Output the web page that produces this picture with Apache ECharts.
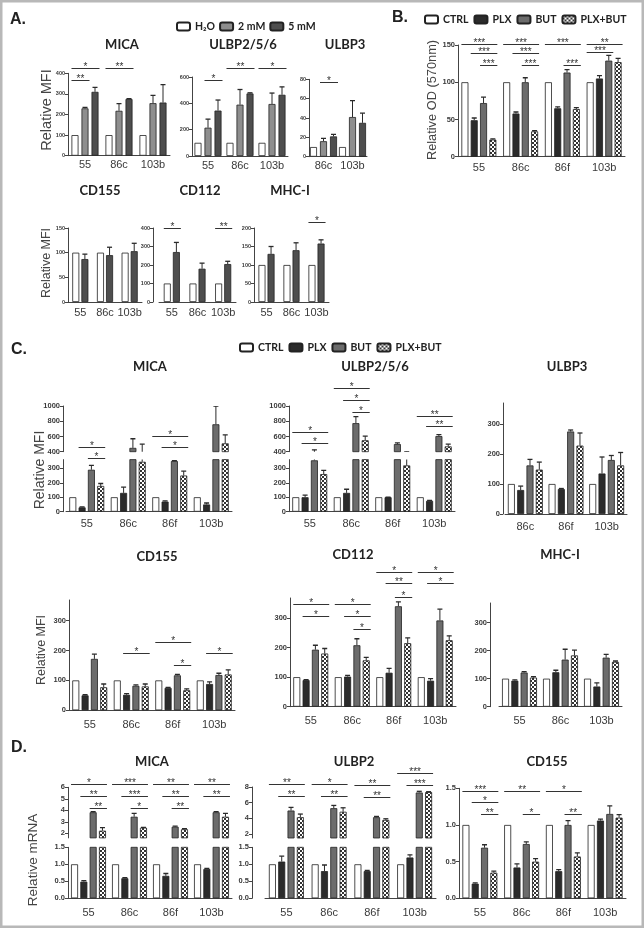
<!DOCTYPE html>
<html><head><meta charset="utf-8">
<script src="https://cdn.jsdelivr.net/npm/echarts@6/dist/echarts.min.js"></script>
<style>html,body{margin:0;padding:0;background:#fff}#c{width:644px;height:928px}</style>
</head><body><div id="c"></div><script>
// ================= DATA =================
// ---- Panel A ----
const A_groups = ['55', '86c', '103b'];
const A_groupsULBP3 = ['86c', '103b'];
const A_treat3 = ['H₂O', '2 mM', '5 mM'];
const A_treat2 = ['H₂O', '5 mM'];

const A_MICA_h2o = [100, 100, 100];
const A_MICA_2mM = [230, 218, 255];
const A_MICA_2mM_err = [5, 35, 38];
const A_MICA_5mM = [310, 275, 258];
const A_MICA_5mM_err = [22, 2, 87];
const A_MICA_ticks = [0, 100, 200, 300, 400];
const A_MICA_sig = [[0, 0, 2, 424, '*'], [0, 0, 1, 366, '**'], [1, 0, 2, 424, '**']];

const A_ULBP256_h2o = [100, 100, 100];
const A_ULBP256_2mM = [215, 390, 395];
const A_ULBP256_2mM_err = [65, 115, 83];
const A_ULBP256_5mM = [345, 475, 465];
const A_ULBP256_5mM_err = [80, 5, 60];
const A_ULBP256_ticks = [0, 200, 400, 600];
const A_ULBP256_sig = [[0, 1, 2, 577, '*'], [1, 0, 2, 668, '**'], [2, 0, 2, 668, '*']];

const A_ULBP3_h2o = [10, 10];
const A_ULBP3_2mM = [16, 41];
const A_ULBP3_2mM_err = [3, 17];
const A_ULBP3_5mM = [21, 35];
const A_ULBP3_5mM_err = [2, 10];
const A_ULBP3_ticks = [0, 20, 40, 60, 80];
const A_ULBP3_sig = [[0, 1, 2, 77, '*']];

const A_CD155_h2o = [100, 100, 100];
const A_CD155_5mM = [87, 95, 103];
const A_CD155_5mM_err = [10, 16, 16];
const A_CD155_ticks = [0, 50, 100, 150];

const A_CD112_h2o = [100, 100, 100];
const A_CD112_5mM = [270, 180, 205];
const A_CD112_5mM_err = [52, 30, 15];
const A_CD112_ticks = [0, 100, 200, 300, 400];
const A_CD112_sig = [[0, 0, 1, 400, '*'], [2, 0, 1, 400, '**']];

const A_MHCI_h2o = [100, 100, 100];
const A_MHCI_5mM = [130, 140, 158];
const A_MHCI_5mM_err = [20, 20, 10];
const A_MHCI_ticks = [0, 50, 100, 150, 200];
const A_MHCI_sig = [[2, 0, 1, 216, '*']];

// ---- Panel B ----
const B_groups = ['55', '86c', '86f', '103b'];
const B_treat = ['CTRL', 'PLX', 'BUT', 'PLX+BUT'];
const B_CTRL = [100, 100, 100, 100];
const B_PLX = [49, 58, 65, 105];
const B_PLX_err = [3, 2, 2, 4];
const B_BUT = [72, 100, 113, 129];
const B_BUT_err = [8, 6, 4, 7];
const B_PLXBUT = [23, 34, 64, 127];
const B_PLXBUT_err = [1, 1, 2, 5];
const B_ticks = [0, 50, 100, 150];
const B_sig = [[0, 0, 3, 152, '***'], [0, 1, 3, 139, '***'], [0, 2, 3, 123, '***'],
               [1, 0, 3, 152, '***'], [1, 1, 3, 139, '***'], [1, 2, 3, 123, '***'],
               [2, 0, 3, 152, '***'], [2, 2, 3, 123, '***'],
               [3, 0, 3, 152, '**'], [3, 0, 2, 140, '***']];

// ---- Panel C ----
const C_groups4 = ['55', '86c', '86f', '103b'];
const C_groupsULBP3 = ['86c', '86f', '103b'];
const C_groupsMHCI = ['55', '86c', '103b'];
const C_upperTicks = [400, 600, 800, 1000];
const C_lowerTicks = [0, 100, 200, 300];

const C_MICA_CTRL = [100, 100, 100, 100];
const C_MICA_PLX = [30, 130, 70, 50];
const C_MICA_PLX_err = [3, 40, 5, 10];
const C_MICA_BUT = [290, 450, 350, 760];
const C_MICA_BUT_err = [30, 120, 3, 240];
const C_MICA_PLXBUT = [178, 345, 250, 510];
const C_MICA_PLXBUT_err = [17, 155, 30, 110];
const C_MICA_sig = [[0, 1, 3, 462, '*'], [0, 2, 3, 317, '*'], [2, 0, 3, 606, '*'], [2, 1, 3, 462, '*']];

const C_ULBP256_CTRL = [100, 100, 100, 100];
const C_ULBP256_PLX = [100, 130, 100, 75];
const C_ULBP256_PLX_err = [15, 25, 0, 3];
const C_ULBP256_BUT = [355, 775, 500, 605];
const C_ULBP256_BUT_err = [70, 85, 15, 20];
const C_ULBP256_PLXBUT = [260, 550, 320, 470];
const C_ULBP256_PLXBUT_err = [25, 55, 80, 30];
const C_ULBP256_sig = [[0, 0, 3, 662, '*'], [0, 1, 3, 514, '*'],
                       [1, 0, 3, 1236, '*'], [1, 1, 3, 1078, '*'], [1, 2, 3, 921, '*'],
                       [3, 0, 3, 868, '**'], [3, 1, 3, 737, '**']];

const C_ULBP3_CTRL = [100, 100, 100];
const C_ULBP3_PLX = [80, 83, 135];
const C_ULBP3_PLX_err = [13, 2, 55];
const C_ULBP3_BUT = [162, 275, 180];
const C_ULBP3_BUT_err = [20, 5, 15];
const C_ULBP3_PLXBUT = [148, 228, 162];
const C_ULBP3_PLXBUT_err = [25, 42, 43];

const C_CD155_CTRL = [100, 100, 100, 100];
const C_CD155_PLX = [50, 52, 75, 88];
const C_CD155_PLX_err = [2, 4, 2, 7];
const C_CD155_BUT = [172, 82, 117, 118];
const C_CD155_BUT_err = [16, 3, 3, 6];
const C_CD155_PLXBUT = [77, 80, 67, 120];
const C_CD155_PLXBUT_err = [11, 8, 5, 15];
const C_CD155_sig = [[1, 1, 3, 193, '*'], [2, 0, 3, 230, '*'], [2, 2, 3, 152, '*'], [3, 1, 3, 193, '*']];

const C_CD112_CTRL = [100, 100, 100, 100];
const C_CD112_PLX = [90, 102, 115, 88];
const C_CD112_PLX_err = [2, 4, 15, 7];
const C_CD112_BUT = [193, 208, 340, 292];
const C_CD112_BUT_err = [15, 22, 15, 38];
const C_CD112_PLXBUT = [180, 157, 215, 225];
const C_CD112_PLXBUT_err = [17, 10, 18, 15];
const C_CD112_sig = [[0, 0, 3, 347, '*'], [0, 1, 3, 307, '*'],
                     [1, 0, 3, 347, '*'], [1, 1, 3, 307, '*'], [1, 2, 3, 263, '*'],
                     [2, 0, 3, 456, '*'], [2, 1, 3, 418, '**'], [2, 2, 3, 371, '*'],
                     [3, 0, 3, 456, '*'], [3, 1, 3, 418, '*']];

const C_MHCI_CTRL = [100, 100, 100];
const C_MHCI_PLX = [93, 123, 72];
const C_MHCI_PLX_err = [3, 7, 13];
const C_MHCI_BUT = [122, 168, 175];
const C_MHCI_BUT_err = [3, 37, 12];
const C_MHCI_PLXBUT = [104, 183, 160];
const C_MHCI_PLXBUT_err = [3, 19, 3];

// ---- Panel D ----
const D_groups = ['55', '86c', '86f', '103b'];
const D_lowerTicks = [0, 0.5, 1, 1.5];
const D_MICA_upperTicks = [2, 3, 4, 5, 6];
const D_ULBP2_upperTicks = [2, 4, 6, 8];

const D_MICA_CTRL = [1, 1, 1, 1];
const D_MICA_PLX = [0.49, 0.59, 0.66, 0.86];
const D_MICA_PLX_err = [0.03, 0.02, 0.07, 0.02];
const D_MICA_BUT = [3.83, 3.44, 2.57, 3.83];
const D_MICA_BUT_err = [0.05, 0.3, 0.06, 0.05];
const D_MICA_PLXBUT = [2.23, 2.49, 2.35, 3.44];
const D_MICA_PLXBUT_err = [0.26, 0.03, 0.05, 0.3];
const D_MICA_sig = [[0, 0, 3, 6.29, '*'], [0, 1, 3, 5.24, '**'], [0, 2, 3, 4.2, '**'],
                    [1, 0, 3, 6.29, '***'], [1, 1, 3, 5.24, '***'], [1, 2, 3, 4.2, '*'],
                    [2, 0, 3, 6.29, '**'], [2, 1, 3, 5.24, '**'], [2, 2, 3, 4.2, '**'],
                    [3, 0, 3, 6.29, '**'], [3, 1, 3, 5.24, '**']];

const D_ULBP2_CTRL = [1, 1, 1, 1];
const D_ULBP2_PLX = [1.08, 0.8, 0.8, 1.2];
const D_ULBP2_PLX_err = [0.16, 0.18, 0.02, 0.08];
const D_ULBP2_BUT = [5.0, 5.3, 4.15, 7.3];
const D_ULBP2_BUT_err = [0.4, 0.35, 0.1, 0.15];
const D_ULBP2_PLXBUT = [4.15, 4.85, 3.8, 7.35];
const D_ULBP2_PLXBUT_err = [0.4, 0.5, 0.15, 0.05];
const D_ULBP2_sig = [[0, 0, 3, 8.35, '**'], [0, 1, 3, 6.85, '**'],
                     [1, 0, 3, 8.35, '*'], [1, 1, 3, 6.85, '**'],
                     [2, 0, 3, 8.2, '**'], [2, 1, 3, 6.7, '**'],
                     [3, 0, 3, 9.83, '***'], [3, 1, 3, 8.26, '***']];

const D_CD155_CTRL = [1, 1, 1, 1];
const D_CD155_PLX = [0.2, 0.42, 0.37, 1.06];
const D_CD155_PLX_err = [0.01, 0.05, 0.02, 0.02];
const D_CD155_BUT = [0.69, 0.74, 1.0, 1.15];
const D_CD155_BUT_err = [0.04, 0.03, 0.06, 0.11];
const D_CD155_PLXBUT = [0.35, 0.5, 0.57, 1.1];
const D_CD155_PLXBUT_err = [0.02, 0.04, 0.05, 0.04];
const D_CD155_sig = [[0, 0, 3, 1.464, '***'], [0, 1, 3, 1.318, '*'], [0, 2, 3, 1.15, '**'],
                     [1, 0, 3, 1.464, '**'], [1, 2, 3, 1.15, '*'],
                     [2, 0, 3, 1.464, '*'], [2, 2, 3, 1.15, '**']];

// ================= STYLE / LAYOUT =================
const SANS = "'Liberation Sans', Arial, sans-serif";
const NARROW = "'Liberation Sans Narrow', 'Liberation Sans', Arial, sans-serif";
const BOLDF = "Lato, 'Open Sans', sans-serif";
const INK = '#2a2a2a';

function checker() {
  const c = document.createElement('canvas');
  c.width = 4; c.height = 4;
  const g = c.getContext('2d');
  g.fillStyle = '#333'; g.fillRect(0, 0, 4, 4);
  g.fillStyle = '#fff'; g.fillRect(0, 0, 2, 2); g.fillRect(2, 2, 2, 2);
  return c;
}
const FILL = {
  'H₂O': '#ffffff', '2 mM': '#8e8e8e', '5 mM': '#4e4e4e',
  'CTRL': '#ffffff', 'PLX': '#2b2b2b', 'BUT': '#6c6c6c',
  'PLX+BUT': { image: checker(), repeat: 'repeat' }
};

const option = {
  animation: false, backgroundColor: '#fff',
  textStyle: { fontFamily: SANS },
  grid: [], xAxis: [], yAxis: [], series: [], legend: [], graphic: []
};

function offsetOf(i, n, bw, gap) { return (i - (n - 1) / 2) * bw * (1 + gap); }

function errRender(n, bw, gap) {
  return function (params, api) {
    const cat = api.value(0), i = api.value(1), v = api.value(2), t = api.value(3);
    const p0 = api.coord([cat, v]), p1 = api.coord([cat, t]);
    const x = p0[0] + offsetOf(i, n, bw, gap);
    return { type: 'group', children: [
      { type: 'line', shape: { x1: x, y1: p0[1], x2: x, y2: p1[1] }, style: { stroke: INK, lineWidth: 1 } },
      { type: 'line', shape: { x1: x - 2.5, y1: p1[1], x2: x + 2.5, y2: p1[1] }, style: { stroke: INK, lineWidth: 1.3 } }
    ] };
  };
}
function sigRender(n, bw, gap, sig) {
  return function (params, api) {
    const s = sig[params.dataIndex];
    const c = api.coord([s[0], s[3]]);
    const x1 = c[0] + offsetOf(s[1], n, bw, gap) - bw / 2;
    const x2 = c[0] + offsetOf(s[2], n, bw, gap) + bw / 2 + 1;
    const y = Math.round(c[1]) + 0.5;
    return { type: 'group', children: [
      { type: 'line', shape: { x1: x1, y1: y, x2: x2, y2: y }, style: { stroke: '#333', lineWidth: 1 } },
      { type: 'text', style: { text: s[4], x: (x1 + x2) / 2, y: y + 4, align: 'center', verticalAlign: 'bottom',
        font: '10px ' + SANS, fill: '#333' } }
    ] };
  };
}

function addGrid(seg, cats, xs) {
  const gi = option.grid.length;
  const r = seg.rect, y = seg.y;
  option.grid.push({ left: r[0], top: r[1], width: r[2], height: r[3] });
  option.xAxis.push({ type: 'category', gridIndex: gi, data: cats, show: !!seg.showX,
    axisLine: { lineStyle: { color: '#444', width: 1 } },
    axisTick: { alignWithLabel: true, length: 3, lineStyle: { color: '#444' } },
    axisLabel: { fontSize: xs.fs, color: '#3a3a3a', margin: xs.margin, fontFamily: NARROW, interval: 0, hideOverlap: false } });
  option.yAxis.push({ type: 'value', gridIndex: gi, min: y.min, max: y.max, offset: y.offset || 0,
    axisLine: { show: true, lineStyle: { color: '#444', width: 1 } },
    axisTick: { show: true, length: 3, customValues: y.ticks, lineStyle: { color: '#444' } },
    axisLabel: { customValues: y.ticks, fontSize: y.fs, fontWeight: 'bold', color: '#3a3a3a', margin: 3,
      formatter: y.fmt || (v => String(v)) },
    splitLine: { show: false } });
  return gi;
}

function addPanel(p) {
  const n = p.names.length;
  const gis = p.segs.map(s => addGrid(s, p.cats, p.x));
  gis.forEach(gi => {
    p.names.forEach((nm, i) => option.series.push({ type: 'bar', name: nm, xAxisIndex: gi, yAxisIndex: gi,
      data: p.vals[i], barWidth: p.bw, barGap: (p.gap * 100) + '%', clip: true, silent: true,
      itemStyle: { color: FILL[nm], borderColor: '#222', borderWidth: 0.8 } }));
    const ed = [];
    p.names.forEach((nm, i) => { if (p.errs[i]) p.vals[i].forEach((v, k) => ed.push([k, i, v, v + p.errs[i][k]])); });
    option.series.push({ type: 'custom', xAxisIndex: gi, yAxisIndex: gi, clip: true, silent: true, z: 3,
      data: ed, encode: { x: 0, y: [2, 3] }, renderItem: errRender(n, p.bw, p.gap) });
  });
  if (p.sig) {
    const gi = gis[p.sigSeg || 0];
    option.series.push({ type: 'custom', xAxisIndex: gi, yAxisIndex: gi, clip: false, silent: true, z: 4,
      data: p.sig.map(s => [s[0], s[1], s[2], s[3]]), encode: { x: 0, y: 3 },
      renderItem: sigRender(n, p.bw, p.gap, p.sig) });
  }
}

const XA = { fs: 11, margin: 4 };
const XA2 = { fs: 11, margin: 5 };
const XB = { fs: 11, margin: 6 };
const XC1 = { fs: 11, margin: 7 };
const XC2 = { fs: 11, margin: 9 };
const XD = { fs: 11, margin: 9 };
const fmt1 = v => v.toFixed(1);

// ---- Panel A ----
addPanel({ cats: A_groups, names: A_treat3, bw: 7, gap: 0.43, x: XA,
  vals: [A_MICA_h2o, A_MICA_2mM, A_MICA_5mM], errs: [null, A_MICA_2mM_err, A_MICA_5mM_err], sig: A_MICA_sig,
  segs: [{ rect: [68, 73.3, 102, 82.4], showX: true, y: { min: 0, max: 400, ticks: A_MICA_ticks, fs: 5.5 } }] });
addPanel({ cats: A_groups, names: A_treat3, bw: 7, gap: 0.43, x: XA,
  vals: [A_ULBP256_h2o, A_ULBP256_2mM, A_ULBP256_5mM], errs: [null, A_ULBP256_2mM_err, A_ULBP256_5mM_err], sig: A_ULBP256_sig,
  segs: [{ rect: [192, 77, 96, 79], showX: true, y: { min: 0, max: 600, ticks: A_ULBP256_ticks, fs: 5.5 } }] });
addPanel({ cats: A_groupsULBP3, names: A_treat3, bw: 7, gap: 0.43, x: XA,
  vals: [A_ULBP3_h2o, A_ULBP3_2mM, A_ULBP3_5mM], errs: [null, A_ULBP3_2mM_err, A_ULBP3_5mM_err], sig: A_ULBP3_sig,
  segs: [{ rect: [309, 79.3, 58, 77.4], showX: true, y: { min: 0, max: 80, ticks: A_ULBP3_ticks, fs: 5.5 } }] });
addPanel({ cats: A_groups, names: A_treat2, bw: 7, gap: 0.3, x: XA2,
  vals: [A_CD155_h2o, A_CD155_5mM], errs: [null, A_CD155_5mM_err],
  segs: [{ rect: [68, 228, 74, 74], showX: true, y: { min: 0, max: 150, ticks: A_CD155_ticks, fs: 5.5 } }] });
addPanel({ cats: A_groups, names: A_treat2, bw: 7, gap: 0.3, x: XA2,
  vals: [A_CD112_h2o, A_CD112_5mM], errs: [null, A_CD112_5mM_err], sig: A_CD112_sig,
  segs: [{ rect: [159, 228, 77, 74], showX: true, y: { min: 0, max: 400, ticks: A_CD112_ticks, fs: 5.5, offset: 6 } }] });
addPanel({ cats: A_groups, names: A_treat2, bw: 7, gap: 0.3, x: XA2,
  vals: [A_MHCI_h2o, A_MHCI_5mM], errs: [null, A_MHCI_5mM_err], sig: A_MHCI_sig,
  segs: [{ rect: [254, 228, 75, 74], showX: true, y: { min: 0, max: 200, ticks: A_MHCI_ticks, fs: 5.5 } }] });

// ---- Panel B ----
addPanel({ cats: B_groups, names: B_treat, bw: 7, gap: 0.33, x: XB,
  vals: [B_CTRL, B_PLX, B_BUT, B_PLXBUT], errs: [null, B_PLX_err, B_BUT_err, B_PLXBUT_err], sig: B_sig,
  segs: [{ rect: [458, 45, 167, 111.7], showX: true, y: { min: 0, max: 150, ticks: B_ticks, fs: 7.5 } }] });

// ---- Panel C ----
function brokenC(left, width, off) {
  return [
    { rect: [left, 406, width, 45.7], showX: false, y: { min: 400, max: 1000, ticks: C_upperTicks, fs: 7.5, offset: off } },
    { rect: [left, 459.6, width, 52.1], showX: true, y: { min: 0, max: 360, ticks: C_lowerTicks, fs: 7.5, offset: off } }
  ];
}
addPanel({ cats: C_groups4, names: B_treat, bw: 7, gap: 0.33, x: XC1,
  vals: [C_MICA_CTRL, C_MICA_PLX, C_MICA_BUT, C_MICA_PLXBUT], errs: [null, C_MICA_PLX_err, C_MICA_BUT_err, C_MICA_PLXBUT_err],
  sig: C_MICA_sig, sigSeg: 0, segs: brokenC(66, 166, 3) });
addPanel({ cats: C_groups4, names: B_treat, bw: 7, gap: 0.33, x: XC1,
  vals: [C_ULBP256_CTRL, C_ULBP256_PLX, C_ULBP256_BUT, C_ULBP256_PLXBUT], errs: [null, C_ULBP256_PLX_err, C_ULBP256_BUT_err, C_ULBP256_PLXBUT_err],
  sig: C_ULBP256_sig, sigSeg: 0, segs: brokenC(289, 166, 0) });
addPanel({ cats: C_groupsULBP3, names: B_treat, bw: 7, gap: 0.33, x: XC1,
  vals: [C_ULBP3_CTRL, C_ULBP3_PLX, C_ULBP3_BUT, C_ULBP3_PLXBUT], errs: [null, C_ULBP3_PLX_err, C_ULBP3_BUT_err, C_ULBP3_PLXBUT_err],
  segs: [{ rect: [505, 403, 122, 111], showX: true, y: { min: 0, max: 370, ticks: C_lowerTicks, fs: 7.5, offset: 2 } }] });
addPanel({ cats: C_groups4, names: B_treat, bw: 7, gap: 0.33, x: XC2,
  vals: [C_CD155_CTRL, C_CD155_PLX, C_CD155_BUT, C_CD155_PLXBUT], errs: [null, C_CD155_PLX_err, C_CD155_BUT_err, C_CD155_PLXBUT_err],
  sig: C_CD155_sig, segs: [{ rect: [69, 600, 166, 110.3], showX: true, y: { min: 0, max: 369, ticks: C_lowerTicks, fs: 7.5 } }] });
addPanel({ cats: C_groups4, names: B_treat, bw: 7, gap: 0.33, x: XC2,
  vals: [C_CD112_CTRL, C_CD112_PLX, C_CD112_BUT, C_CD112_PLXBUT], errs: [null, C_CD112_PLX_err, C_CD112_BUT_err, C_CD112_PLXBUT_err],
  sig: C_CD112_sig, segs: [{ rect: [290, 598, 166, 108.7], showX: true, y: { min: 0, max: 368, ticks: C_lowerTicks, fs: 7.5 } }] });
addPanel({ cats: C_groupsMHCI, names: B_treat, bw: 7, gap: 0.33, x: XC2,
  vals: [C_MHCI_CTRL, C_MHCI_PLX, C_MHCI_BUT, C_MHCI_PLXBUT], errs: [null, C_MHCI_PLX_err, C_MHCI_BUT_err, C_MHCI_PLXBUT_err],
  segs: [{ rect: [499, 603, 123, 103.7], showX: true, y: { min: 0, max: 370, ticks: C_lowerTicks, fs: 7.5, offset: 9 } }] });

// ---- Panel D ----
addPanel({ cats: D_groups, names: B_treat, bw: 7, gap: 0.33, x: XD,
  vals: [D_MICA_CTRL, D_MICA_PLX, D_MICA_BUT, D_MICA_PLXBUT], errs: [null, D_MICA_PLX_err, D_MICA_BUT_err, D_MICA_PLXBUT_err],
  sig: D_MICA_sig, sigSeg: 0, segs: [
    { rect: [68, 787.3, 164, 50.6], showX: false, y: { min: 1.6, max: 6, ticks: D_MICA_upperTicks, fs: 7.5 } },
    { rect: [68, 847.3, 164, 51], showX: true, y: { min: 0, max: 1.5, ticks: D_lowerTicks, fs: 7.5, fmt: fmt1 } }] });
addPanel({ cats: D_groups, names: B_treat, bw: 7, gap: 0.33, x: XD,
  vals: [D_ULBP2_CTRL, D_ULBP2_PLX, D_ULBP2_BUT, D_ULBP2_PLXBUT], errs: [null, D_ULBP2_PLX_err, D_ULBP2_BUT_err, D_ULBP2_PLXBUT_err],
  sig: D_ULBP2_sig, sigSeg: 0, segs: [
    { rect: [265, 787, 171, 51], showX: false, y: { min: 1.5, max: 8, ticks: D_ULBP2_upperTicks, fs: 7.5, offset: 13 } },
    { rect: [265, 847.3, 171, 51], showX: true, y: { min: 0, max: 1.5, ticks: D_lowerTicks, fs: 7.5, fmt: fmt1, offset: 13 } }] });
addPanel({ cats: D_groups, names: B_treat, bw: 7, gap: 0.33, x: XD,
  vals: [D_CD155_CTRL, D_CD155_PLX, D_CD155_BUT, D_CD155_PLXBUT], errs: [null, D_CD155_PLX_err, D_CD155_BUT_err, D_CD155_PLXBUT_err],
  sig: D_CD155_sig, segs: [{ rect: [459, 788.3, 167, 110], showX: true, y: { min: 0, max: 1.5, ticks: D_lowerTicks, fs: 7.5, fmt: fmt1 } }] });

// ---- Legends ----
function legend(names, left, top, gap) {
  return { data: names, left: left, top: top, orient: 'horizontal', icon: 'roundRect', itemWidth: 13, itemHeight: 8,
    itemGap: gap, selectedMode: false, padding: 0,
    textStyle: { fontSize: 10.5, fontWeight: 'bold', fontFamily: BOLDF, color: '#222' } };
}
option.legend.push(legend(A_treat3, 176, 21, 4));
option.legend.push(legend(B_treat, 424, 14, 5));
option.legend.push(legend(B_treat, 239, 342, 5));

// ---- Text: frame, letters, titles, axis names ----
const G = option.graphic;
G.push({ type: 'rect', shape: { x: 1.25, y: 1.25, width: 641.5, height: 925.5 }, style: { fill: 'none', stroke: '#b8b8b8', lineWidth: 2.5 }, silent: true });
function txt(s, x, y, font, align, rot, color) {
  G.push({ type: 'text', x: x, y: y, rotation: rot || 0, silent: true,
    style: { text: s, font: font, fill: color || '#222', align: align || 'center', verticalAlign: 'middle' } });
}
const LETTER = 'bold 16px ' + SANS;
txt('A.', 10, 20, LETTER, 'left');
txt('B.', 392, 18, LETTER, 'left');
txt('C.', 11, 350, LETTER, 'left');
txt('D.', 11, 748, LETTER, 'left');
const TF = 'bold 13px ' + BOLDF;
[['MICA', 122, 45], ['ULBP2/5/6', 243, 45], ['ULBP3', 345, 45], ['CD155', 100, 191], ['CD112', 200, 191], ['MHC-I', 290, 191],
 ['MICA', 150, 367], ['ULBP2/5/6', 375, 367], ['ULBP3', 567, 367], ['CD155', 157, 557], ['CD112', 353, 555], ['MHC-I', 560, 555],
 ['MICA', 152, 762], ['ULBP2', 354, 762], ['CD155', 547, 762]].forEach(t => txt(t[0], t[1], t[2], TF));
const R = Math.PI / 2;
txt('Relative MFI', 47, 110, '14.5px ' + SANS, 'center', R, '#444');
txt('Relative MFI', 47, 263, '12.5px ' + SANS, 'center', R, '#444');
txt('Relative OD (570nm)', 432, 100, '12.8px ' + SANS, 'center', R, '#444');
txt('Relative MFI', 40, 470, '14px ' + SANS, 'center', R, '#444');
txt('Relative MFI', 42, 650, '12.5px ' + SANS, 'center', R, '#444');
txt('Relative mRNA', 33, 860, '13.5px ' + SANS, 'center', R, '#444');

const chart = echarts.init(document.getElementById('c'), null, { renderer: 'canvas' });
chart.setOption(option);
</script></body></html>
